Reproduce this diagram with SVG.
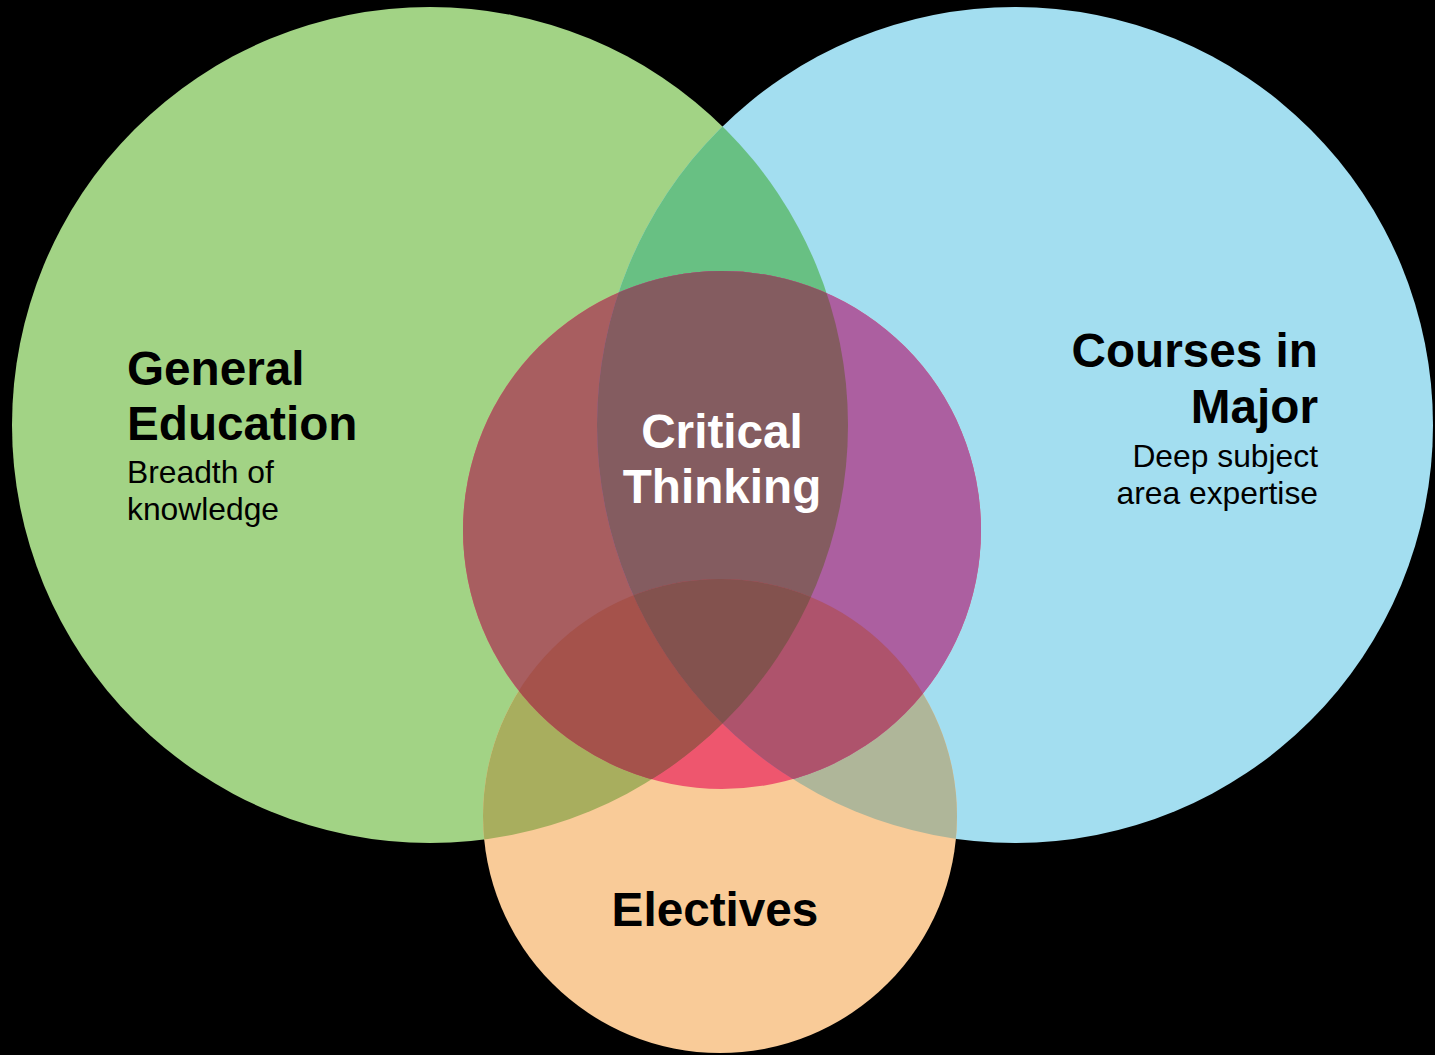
<svg xmlns="http://www.w3.org/2000/svg" width="1435" height="1055" viewBox="0 0 1435 1055">
<style>
.h{font-family:"Liberation Sans",Arial,sans-serif;font-weight:bold;font-size:47.7px;fill:#000}
.s{font-family:"Liberation Sans",Arial,sans-serif;font-size:31.8px;fill:#000}
.w{fill:#fff}
</style>
<defs>
<circle id="gC" cx="430" cy="425" r="418"/>
<circle id="bC" cx="1015" cy="425" r="418"/>
<circle id="oC" cx="720" cy="816" r="237"/>
<circle id="rC" cx="722" cy="530" r="259"/>
<clipPath id="cG"><use href="#gC"/></clipPath>
<clipPath id="cB"><use href="#bC"/></clipPath>
<clipPath id="cO"><use href="#oC"/></clipPath>
</defs>
<rect width="1435" height="1055" fill="#000"/>
<g id="general-education">
<use href="#gC" fill="#A2D385"/>
<text class="h" x="127" y="385">General</text>
<text class="h" x="127" y="440">Education</text>
<text class="s" x="127" y="483">Breadth of</text>
<text class="s" x="127" y="520">knowledge</text>
</g>
<g id="courses-in-major">
<use href="#bC" fill="#A3DEF0"/>
<text class="h" x="1318" y="367" text-anchor="end">Courses in</text>
<text class="h" x="1318" y="423" text-anchor="end">Major</text>
<text class="s" x="1318" y="467" text-anchor="end">Deep subject</text>
<text class="s" x="1318" y="504" text-anchor="end">area expertise</text>
</g>
<g id="electives">
<use href="#oC" fill="#F9CB98"/>
<text class="h" x="715" y="926" text-anchor="middle">Electives</text>
</g>
<g id="overlaps">
<g clip-path="url(#cG)">
<use href="#bC" fill="#68C083"/>
<use href="#oC" fill="#A8AE5E"/>
</g>
<g clip-path="url(#cB)">
<use href="#oC" fill="#AFB699"/>
</g>
</g>
<g id="critical-thinking">
<use href="#rC" fill="#EE566E"/>
<g clip-path="url(#cG)"><use href="#rC" fill="#A85E60"/></g>
<g clip-path="url(#cB)"><use href="#rC" fill="#AC5FA0"/></g>
<g clip-path="url(#cG)"><g clip-path="url(#cB)"><use href="#rC" fill="#845C60"/></g></g>
<g clip-path="url(#cG)"><g clip-path="url(#cO)"><use href="#rC" fill="#A5524B"/></g></g>
<g clip-path="url(#cB)"><g clip-path="url(#cO)"><use href="#rC" fill="#AE536C"/></g></g>
<g clip-path="url(#cG)"><g clip-path="url(#cB)"><g clip-path="url(#cO)"><use href="#rC" fill="#83524E"/></g></g></g>
<text class="h w" x="722" y="448" text-anchor="middle">Critical</text>
<text class="h w" x="722" y="503" text-anchor="middle">Thinking</text>
</g>
</svg>
